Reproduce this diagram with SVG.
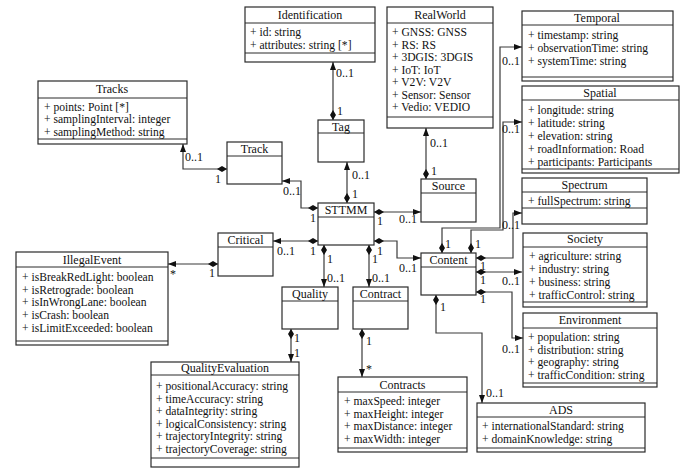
<svg xmlns="http://www.w3.org/2000/svg" width="693" height="476" viewBox="0 0 693 476" font-family="'Liberation Serif', 'DejaVu Serif', serif" font-size="12">
<style>
.b{fill:#fff;stroke:#2a2a2a;stroke-width:1.2}
.s{stroke:#2a2a2a;stroke-width:1}
text{font-family:'Liberation Serif','DejaVu Serif',serif;font-size:12px;fill:#111}
.a{font-size:11.6px}
.h{text-anchor:middle}
.c{fill:none;stroke:#3a3a3a;stroke-width:1.2;marker-start:url(#dia);marker-end:url(#arr)}
</style>
<defs>
<marker id="dia" markerUnits="userSpaceOnUse" markerWidth="12" markerHeight="8" refX="0" refY="4" orient="auto" viewBox="0 0 12 8"><path d="M0,4 L5,1 L10,4 L5,7 Z" fill="#111"/></marker>
<marker id="arr" markerUnits="userSpaceOnUse" markerWidth="9" markerHeight="8" refX="8" refY="4" orient="auto" viewBox="0 0 9 8"><path d="M0,1 L8,4 L0,7 Z" fill="#111"/></marker>
</defs>
<rect width="693" height="476" fill="#fff"/>
<g id="connectors">
<path class="c" d="M333,120 L333,62"/>
<path class="c" d="M347,203 L347,162"/>
<path class="c" d="M426,179 L426,128"/>
<path class="c" d="M227,169 L183,169 L183,144"/>
<path class="c" d="M318,208 L301,208 L301,181 L282,181"/>
<path class="c" d="M318,241 L273,241"/>
<path class="c" d="M218,264 L168,264"/>
<path class="c" d="M374,212 L421,212"/>
<path class="c" d="M374,241 L397,241 L397,258 L421,258"/>
<path class="c" d="M324,245 L324,287"/>
<path class="c" d="M369,245 L369,287"/>
<path class="c" d="M291,329 L291,362"/>
<path class="c" d="M362,329 L362,377"/>
<path class="c" d="M442,253 L442,228 L500,228 L500,47 L522,47"/>
<path class="c" d="M471,253 L471,230 L503,230 L503,122 L522,122"/>
<path class="c" d="M476,258 L513,258 L513,213 L522,213"/>
<path class="c" d="M476,272 L522,272"/>
<path class="c" d="M476,292 L512,292 L512,338 L523,338"/>
<path class="c" d="M436,295 L436,333 L482,333 L482,403"/>
<text x="336" y="77">0..1</text><text x="337" y="115">1</text>
<text x="352" y="179">0..1</text><text x="352" y="198">1</text>
<text x="430" y="147">0..1</text><text x="431" y="175">1</text>
<text x="185" y="161">0..1</text><text x="215" y="183">1</text>
<text x="283" y="195">0..1</text><text x="310" y="222">1</text>
<text x="277" y="255">0..1</text><text x="310" y="255">1</text>
<text x="170" y="278">*</text><text x="209" y="277">1</text>
<text x="377" y="225">1</text><text x="399" y="223">0..1</text>
<text x="377" y="255">1</text><text x="399" y="272">0..1</text>
<text x="327" y="263">1</text><text x="327" y="282">0..1</text>
<text x="372" y="263">1</text><text x="372" y="282">0..1</text>
<text x="294" y="342">1</text><text x="294" y="357">1</text>
<text x="366" y="345">1</text><text x="366" y="373">*</text>
<text x="445" y="248">1</text><text x="502" y="65">0..1</text>
<text x="475" y="248">1</text><text x="502" y="133">0..1</text>
<text x="480" y="270">1</text><text x="502" y="229">0..1</text>
<text x="480" y="284">1</text><text x="502" y="285">0..1</text>
<text x="480" y="303">1</text><text x="502" y="353">0..1</text>
<text x="440" y="311">1</text><text x="486" y="397">0..1</text>
</g>
<g id="identification">
<rect class="b" x="245" y="7" width="130" height="55"/>
<line class="s" x1="245" y1="23" x2="375" y2="23"/><line class="s" x1="245" y1="53" x2="375" y2="53"/>
<text class="h" x="310" y="19">Identification</text>
<text class="a" x="250" y="36">+ id: string</text>
<text class="a" x="250" y="49">+ attributes: string [*]</text>
</g>
<g id="realworld">
<rect class="b" x="387" y="7" width="106" height="121"/>
<line class="s" x1="387" y1="23" x2="493" y2="23"/><line class="s" x1="387" y1="117" x2="493" y2="117"/>
<text class="h" x="440" y="19">RealWorld</text>
<text class="a" x="392" y="36">+ GNSS: GNSS</text>
<text class="a" x="392" y="48.5">+ RS: RS</text>
<text class="a" x="392" y="61">+ 3DGIS: 3DGIS</text>
<text class="a" x="392" y="73.5">+ IoT: IoT</text>
<text class="a" x="392" y="86">+ V2V: V2V</text>
<text class="a" x="392" y="98.5">+ Sensor: Sensor</text>
<text class="a" x="392" y="111">+ Vedio: VEDIO</text>
</g>
<g id="temporal">
<rect class="b" x="522" y="11" width="151" height="70"/>
<line class="s" x1="522" y1="25" x2="673" y2="25"/><line class="s" x1="522" y1="77" x2="673" y2="77"/>
<text class="h" x="597" y="22">Temporal</text>
<text class="a" x="528" y="39">+ timestamp: string</text>
<text class="a" x="528" y="52">+ observationTime: string</text>
<text class="a" x="528" y="65">+ systemTime: string</text>
</g>
<g id="spatial">
<rect class="b" x="522" y="86" width="157" height="87"/>
<line class="s" x1="522" y1="100" x2="679" y2="100"/><line class="s" x1="522" y1="169" x2="679" y2="169"/>
<text class="h" x="600" y="97">Spatial</text>
<text class="a" x="528" y="114">+ longitude: string</text>
<text class="a" x="528" y="127">+ latitude: string</text>
<text class="a" x="528" y="140">+ elevation: string</text>
<text class="a" x="528" y="153">+ roadInformation: Road</text>
<text class="a" x="528" y="166">+ participants: Participants</text>
</g>
<g id="tracks">
<rect class="b" x="38" y="81" width="149" height="63"/>
<line class="s" x1="38" y1="98" x2="187" y2="98"/><line class="s" x1="38" y1="139" x2="187" y2="139"/>
<text class="h" x="112" y="93">Tracks</text>
<text class="a" x="44" y="110.5">+ points: Point [*]</text>
<text class="a" x="44" y="123">+ samplingInterval: integer</text>
<text class="a" x="44" y="135.5">+ samplingMethod: string</text>
</g>
<g id="tag">
<rect class="b" x="318" y="120" width="46" height="42"/>
<line class="s" x1="318" y1="133" x2="364" y2="133"/>
<text class="h" x="341" y="131">Tag</text>
</g>
<g id="track">
<rect class="b" x="227" y="142" width="55" height="42"/>
<line class="s" x1="227" y1="156" x2="282" y2="156"/>
<text class="h" x="254.5" y="153">Track</text>
</g>
<g id="source">
<rect class="b" x="421" y="179" width="55" height="43"/>
<line class="s" x1="421" y1="193" x2="476" y2="193"/>
<text class="h" x="448.5" y="190">Source</text>
</g>
<g id="sttmm">
<rect class="b" x="318" y="203" width="56" height="42"/>
<line class="s" x1="318" y1="217" x2="374" y2="217"/>
<text class="h" x="346" y="214">STTMM</text>
</g>
<g id="spectrum">
<rect class="b" x="522" y="178" width="125" height="46"/>
<line class="s" x1="522" y1="192" x2="647" y2="192"/><line class="s" x1="522" y1="208" x2="647" y2="208"/>
<text class="h" x="584.5" y="189">Spectrum</text>
<text class="a" x="528" y="205">+ fullSpectrum: string</text>
</g>
<g id="critical">
<rect class="b" x="218" y="233" width="55" height="43"/>
<line class="s" x1="218" y1="247" x2="273" y2="247"/>
<text class="h" x="245.5" y="244">Critical</text>
</g>
<g id="society">
<rect class="b" x="523" y="233" width="124" height="74"/>
<line class="s" x1="523" y1="247" x2="647" y2="247"/><line class="s" x1="523" y1="302" x2="647" y2="302"/>
<text class="h" x="585" y="243">Society</text>
<text class="a" x="529" y="260">+ agriculture: string</text>
<text class="a" x="529" y="273">+ industry: string</text>
<text class="a" x="529" y="286">+ business: string</text>
<text class="a" x="529" y="299">+ trafficControl: string</text>
</g>
<g id="illegalevent">
<rect class="b" x="16" y="252" width="152" height="93"/>
<line class="s" x1="16" y1="267" x2="168" y2="267"/><line class="s" x1="16" y1="341" x2="168" y2="341"/>
<text class="h" x="92" y="264">IllegalEvent</text>
<text class="a" x="22" y="281">+ isBreakRedLight: boolean</text>
<text class="a" x="22" y="293.7">+ isRetrograde: boolean</text>
<text class="a" x="22" y="306.4">+ isInWrongLane: boolean</text>
<text class="a" x="22" y="319.1">+ isCrash: boolean</text>
<text class="a" x="22" y="331.8">+ isLimitExceeded: boolean</text>
</g>
<g id="content">
<rect class="b" x="421" y="253" width="55" height="42"/>
<line class="s" x1="421" y1="267" x2="476" y2="267"/>
<text class="h" x="448.5" y="264">Content</text>
</g>
<g id="quality">
<rect class="b" x="282" y="287" width="56" height="42"/>
<line class="s" x1="282" y1="301" x2="338" y2="301"/>
<text class="h" x="310" y="298">Quality</text>
</g>
<g id="contract">
<rect class="b" x="353" y="287" width="55" height="42"/>
<line class="s" x1="353" y1="301" x2="408" y2="301"/>
<text class="h" x="380.5" y="298">Contract</text>
</g>
<g id="environment">
<rect class="b" x="523" y="313" width="134" height="74"/>
<line class="s" x1="523" y1="328" x2="657" y2="328"/><line class="s" x1="523" y1="383" x2="657" y2="383"/>
<text class="h" x="590" y="324">Environment</text>
<text class="a" x="528" y="341">+ population: string</text>
<text class="a" x="528" y="353.7">+ distribution: string</text>
<text class="a" x="528" y="366.4">+ geography: string</text>
<text class="a" x="528" y="379">+ trafficCondition: string</text>
</g>
<g id="qualityevaluation">
<rect class="b" x="151" y="362" width="148" height="105"/>
<line class="s" x1="151" y1="375" x2="299" y2="375"/><line class="s" x1="151" y1="458" x2="299" y2="458"/>
<text class="h" x="225" y="372">QualityEvaluation</text>
<text class="a" x="156" y="390">+ positionalAccuracy: string</text>
<text class="a" x="156" y="402.5">+ timeAccuracy: string</text>
<text class="a" x="156" y="415">+ dataIntegrity: string</text>
<text class="a" x="156" y="427.5">+ logicalConsistency: string</text>
<text class="a" x="156" y="440">+ trajectoryIntegrity: string</text>
<text class="a" x="156" y="452.5">+ trajectoryCoverage: string</text>
</g>
<g id="contracts">
<rect class="b" x="338" y="377" width="129" height="75"/>
<line class="s" x1="338" y1="392" x2="467" y2="392"/><line class="s" x1="338" y1="448" x2="467" y2="448"/>
<text class="h" x="402.5" y="389">Contracts</text>
<text class="a" x="344" y="405">+ maxSpeed: integer</text>
<text class="a" x="344" y="417.5">+ maxHeight: integer</text>
<text class="a" x="344" y="430">+ maxDistance: integer</text>
<text class="a" x="344" y="442.5">+ maxWidth: integer</text>
</g>
<g id="ads">
<rect class="b" x="477" y="403" width="168" height="49"/>
<line class="s" x1="477" y1="417" x2="645" y2="417"/><line class="s" x1="477" y1="448" x2="645" y2="448"/>
<text class="h" x="561" y="414">ADS</text>
<text class="a" x="482" y="430">+ internationalStandard: string</text>
<text class="a" x="482" y="443">+ domainKnowledge: string</text>
</g>
</svg>
